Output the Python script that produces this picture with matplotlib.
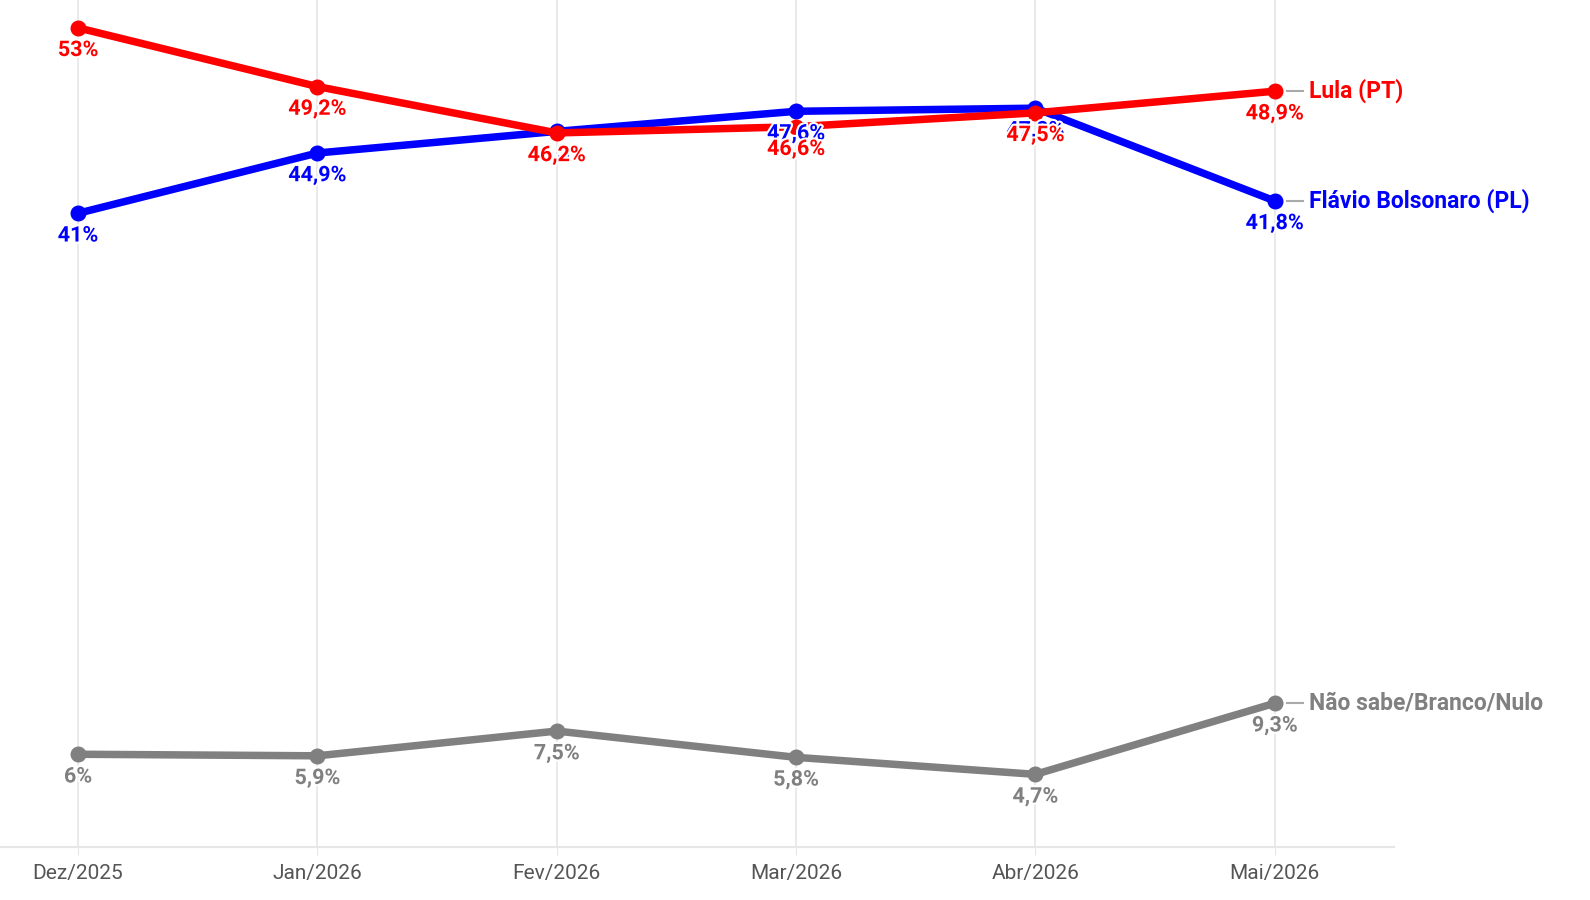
import matplotlib
matplotlib.use('Agg')
from matplotlib import pyplot as plt
import matplotlib.patheffects as pe

plt.rcParams['font.family'] = ['Roboto', 'DejaVu Sans']

meses = ['Dez/2025', 'Jan/2026', 'Fev/2026', 'Mar/2026', 'Abr/2026', 'Mai/2026']
flavio = [41.0, 44.9, 46.3, 47.6, 47.8, 41.8]
lula = [53.0, 49.2, 46.2, 46.6, 47.5, 48.9]
nao_sabe = [6.0, 5.9, 7.5, 5.8, 4.7, 9.3]

series = [
    ('Não sabe/Branco/Nulo', nao_sabe, '#808080'),
    ('Flávio Bolsonaro (PL)', flavio, '#0000ff'),
    ('Lula (PT)', lula, '#ff0000'),
]


def fmt(v):
    s = ('%.1f' % v).replace('.', ',')
    if s.endswith(',0'):
        s = s[:-2]
    return s + '%'


fig = plt.figure(figsize=(15.9, 9), dpi=100)
ax = fig.add_axes([0, 0.0589, 0.877, 0.9411])
x = list(range(len(meses)))

for nome, vals, cor in series:
    ax.plot(x, vals, color=cor, lw=5.4, marker='o', ms=10.5,
            solid_capstyle='round', zorder=3)

halo = [pe.withStroke(linewidth=3, foreground='white')]
for nome, vals, cor in series:
    for xi, v in zip(x, vals):
        ax.annotate(fmt(v), (xi, v), xytext=(0, -16), textcoords='offset points',
                    ha='center', va='center', fontsize=15.5, fontweight='bold',
                    color=cor, path_effects=halo, zorder=5)
    # linha guia até o rótulo da série
    ax.plot([x[-1] + 0.05, x[-1] + 0.12], [vals[-1], vals[-1]],
            color='#aaaaaa', lw=1.5, zorder=2)
    ax.annotate(nome, (x[-1], vals[-1]), xytext=(25, 0), textcoords='offset points',
                ha='left', va='center', fontsize=16.5, fontweight='bold',
                color=cor, annotation_clip=False, zorder=5)

ax.set_xlim(-0.326, 5.5)
ax.set_ylim(0, 54.8)
ax.set_xticks(x)
ax.set_xticklabels(meses, fontsize=15, color='#555555')
ax.set_yticks([])
ax.grid(axis='x', color='#e6e6e6', lw=1.2, zorder=0)
for lado in ['top', 'right', 'left']:
    ax.spines[lado].set_visible(False)
ax.spines['bottom'].set_color('#e6e6e6')
ax.spines['bottom'].set_linewidth(1.5)
ax.tick_params(axis='x', length=6, color='#e6e6e6', pad=6)

fig.savefig('out.png', dpi=100)
